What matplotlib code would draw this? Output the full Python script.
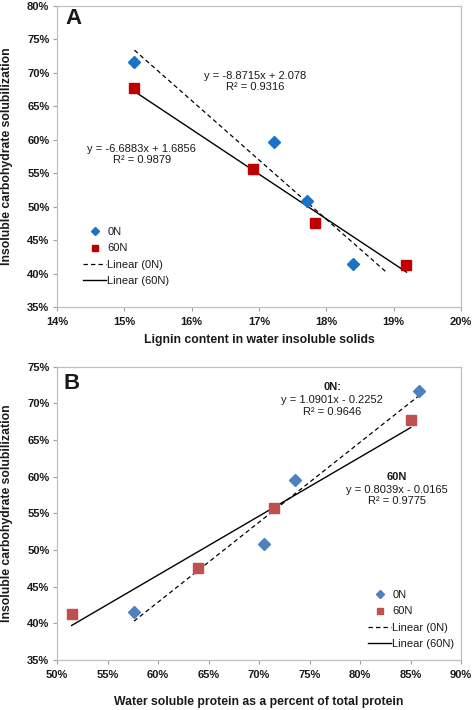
import matplotlib
matplotlib.use("Agg")
import matplotlib.pyplot as plt
from matplotlib.lines import Line2D
import numpy as np

plt.rcParams['font.family'] = ['Liberation Sans', 'DejaVu Sans']

# ---------------- data ----------------
# Panel A: lignin content (fraction) vs insoluble carbohydrate solubilization
lignin_0N = [0.1515, 0.1723, 0.1772, 0.1840]
solub_0N = [0.717, 0.596, 0.508, 0.415]
lignin_60N = [0.1515, 0.1691, 0.1783, 0.1919]
solub_60N = [0.677, 0.557, 0.475, 0.413]
# trendlines (from chart equations)
A_fit_0N = (-8.8715, 2.078)
A_fit_60N = (-6.6883, 1.6856)
A_range_0N = [0.1515, 0.1890]
A_range_60N = [0.1515, 0.1919]

# Panel B: water soluble protein (fraction of total) vs solubilization
protein_0N = [0.8588, 0.7361, 0.7045, 0.5762]
solubB_0N = [0.717, 0.596, 0.508, 0.415]
protein_60N = [0.8502, 0.7150, 0.6398, 0.5145]
solubB_60N = [0.677, 0.557, 0.475, 0.413]
B_fit_0N = (1.0901, -0.2252)
B_fit_60N = (0.8039, -0.0165)

A_xticks = [0.14, 0.15, 0.16, 0.17, 0.18, 0.19, 0.20]
A_yticks = [0.35, 0.40, 0.45, 0.50, 0.55, 0.60, 0.65, 0.70, 0.75, 0.80]
B_xticks = [0.50, 0.55, 0.60, 0.65, 0.70, 0.75, 0.80, 0.85, 0.90]
B_yticks = [0.35, 0.40, 0.45, 0.50, 0.55, 0.60, 0.65, 0.70, 0.75]

TXT = '#1a1a1a'
SPINE = '#c0c0c0'

fig = plt.figure(figsize=(4.72, 7.10), dpi=100)
W, H = 472, 710


def make_ax(left, top, right, bottom):
    return fig.add_axes([left / W, 1 - bottom / H, (right - left) / W, (bottom - top) / H])


def style(ax, xticks, yticks):
    ax.set_xticks(xticks)
    ax.set_yticks(yticks)
    ax.set_xlim(xticks[0], xticks[-1])
    ax.set_ylim(yticks[0], yticks[-1])
    ax.set_xticklabels([f"{round(v*100)}%" for v in xticks])
    ax.set_yticklabels([f"{round(v*100)}%" for v in yticks])
    for lab in ax.get_xticklabels() + ax.get_yticklabels():
        lab.set_fontweight('bold')
        lab.set_fontsize(8)
        lab.set_color(TXT)
    for s in ax.spines.values():
        s.set_color(SPINE)
        s.set_linewidth(0.9)
    ax.tick_params(axis='both', direction='out', length=3, width=0.8, color='#a0a0a0', pad=2.5)
    ax.tick_params(axis='x', pad=4)


def fit_line(ax, rng, coef, **kw):
    xs = np.array(rng)
    ax.plot(xs, coef[0] * xs + coef[1], **kw)


DASH = (0, (3.5, 2.5))

# ---------------- Panel A ----------------
axA = make_ax(57, 6, 461, 307)
c0A, c60A = '#1a73c4', '#c00000'
fit_line(axA, A_range_0N, A_fit_0N, color='black', lw=0.9, ls=DASH)
fit_line(axA, A_range_60N, A_fit_60N, color='black', lw=1.0, ls='-')
axA.plot(lignin_0N, solub_0N, ls='none', marker='D', ms=6.5, color=c0A, mec=c0A)
axA.plot(lignin_60N, solub_60N, ls='none', marker='s', ms=7, color=c60A, mec=c60A)
style(axA, A_xticks, A_yticks)
axA.set_xlabel('Lignin content in water insoluble solids', fontsize=8.8, fontweight='bold', color=TXT)
axA.set_ylabel('Insoluble carbohydrate solubilization', fontsize=8.8, fontweight='bold', color=TXT)
axA.xaxis.set_label_coords(0.5, (307 - 340) / 301)
axA.xaxis.label.set_va('center')
axA.yaxis.set_label_coords((7 - 57) / 404, 0.5)
axA.yaxis.label.set_va('center')
axA.text(0.04, 0.957, 'A', transform=axA.transAxes, fontsize=16, fontweight='bold', va='center', ha='center', color=TXT)
axA.text(0.49, 0.749, 'y = -8.8715x + 2.078\nR² = 0.9316', transform=axA.transAxes, fontsize=8,
         ha='center', va='center', color=TXT, linespacing=1.15)
axA.text(0.21, 0.507, 'y = -6.6883x + 1.6856\nR² = 0.9879', transform=axA.transAxes, fontsize=8,
         ha='center', va='center', color=TXT, linespacing=1.15)
hA = [Line2D([], [], ls='none', marker='D', ms=6.5, color=c0A),
      Line2D([], [], ls='none', marker='s', ms=7, color=c60A),
      Line2D([], [], color='black', lw=0.9, ls=DASH),
      Line2D([], [], color='black', lw=1.0)]
axA.legend(hA, ['0N', '60N', 'Linear (0N)', 'Linear (60N)'], loc='upper left',
           bbox_to_anchor=((83 - 57) / 404, (307 - 227) / 301), frameon=False, fontsize=8,
           borderpad=0, borderaxespad=0, handlelength=2.1, handletextpad=0.1,
           labelspacing=0.58, markerscale=0.7, labelcolor=TXT)

# ---------------- Panel B ----------------
axB = make_ax(57, 366.7, 461, 660)
c0B, c60B = '#4f81bd', '#c0504d'
fit_line(axB, [min(protein_0N), max(protein_0N)], B_fit_0N, color='black', lw=0.9, ls=DASH)
fit_line(axB, [min(protein_60N), max(protein_60N)], B_fit_60N, color='black', lw=1.0, ls='-')
axB.plot(protein_0N, solubB_0N, ls='none', marker='D', ms=6.5, color=c0B, mec=c0B)
axB.plot(protein_60N, solubB_60N, ls='none', marker='s', ms=7, color=c60B, mec=c60B)
style(axB, B_xticks, B_yticks)
axB.set_xlabel('Water soluble protein as a percent of total protein', fontsize=8.8, fontweight='bold', color=TXT)
axB.set_ylabel('Insoluble carbohydrate solubilization', fontsize=8.8, fontweight='bold', color=TXT)
axB.xaxis.set_label_coords(0.5, (660 - 701.6) / 293.3)
axB.xaxis.label.set_va('center')
axB.yaxis.set_label_coords((7 - 57) / 404, 0.5)
axB.yaxis.label.set_va('center')
axB.text(0.035, 0.944, 'B', transform=axB.transAxes, fontsize=16, fontweight='bold', va='center', ha='center', color=TXT)
axB.text(0.681, 0.931, '0N:', transform=axB.transAxes, fontsize=8, fontweight='bold', ha='center', va='center', color=TXT)
axB.text(0.681, 0.866, 'y = 1.0901x - 0.2252\nR² = 0.9646', transform=axB.transAxes, fontsize=8,
         ha='center', va='center', color=TXT, linespacing=1.15)
axB.text(0.842, 0.624, '60N', transform=axB.transAxes, fontsize=8, fontweight='bold', ha='center', va='center', color=TXT)
axB.text(0.842, 0.561, 'y = 0.8039x - 0.0165\nR² = 0.9775', transform=axB.transAxes, fontsize=8,
         ha='center', va='center', color=TXT, linespacing=1.15)
hB = [Line2D([], [], ls='none', marker='D', ms=6.5, color=c0B),
      Line2D([], [], ls='none', marker='s', ms=7, color=c60B),
      Line2D([], [], color='black', lw=0.9, ls=DASH),
      Line2D([], [], color='black', lw=1.0)]
axB.legend(hB, ['0N', '60N', 'Linear (0N)', 'Linear (60N)'], loc='upper left',
           bbox_to_anchor=((368 - 57) / 404, (660 - 590) / 293.3), frameon=False, fontsize=8,
           borderpad=0, borderaxespad=0, handlelength=2.1, handletextpad=0.1,
           labelspacing=0.58, markerscale=0.7, labelcolor=TXT)

fig.savefig('out.png', dpi=100)
